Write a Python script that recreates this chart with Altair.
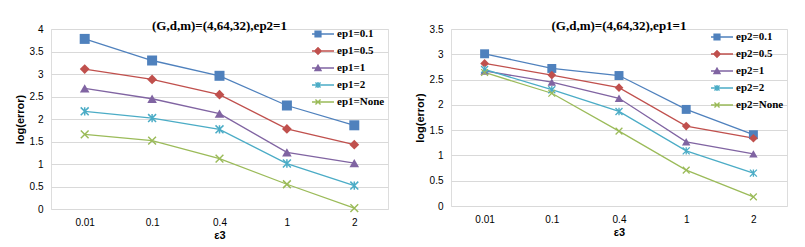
import math
import altair as alt
import pandas as pd

# ---------------- data ----------------
eps3 = ["0.01", "0.1", "0.4", "1", "2"]

left_series = ["ep1=0.1", "ep1=0.5", "ep1=1", "ep1=2", "ep1=None"]
left_ep1_01 = [3.78, 3.30, 2.96, 2.30, 1.86]
left_ep1_05 = [3.11, 2.88, 2.54, 1.78, 1.43]
left_ep1_1 = [2.68, 2.45, 2.12, 1.26, 1.02]
left_ep1_2 = [2.17, 2.02, 1.77, 1.01, 0.52]
left_ep1_none = [1.66, 1.52, 1.12, 0.55, 0.02]

right_series = ["ep2=0.1", "ep2=0.5", "ep2=1", "ep2=2", "ep2=None"]
right_ep2_01 = [3.01, 2.72, 2.58, 1.91, 1.41]
right_ep2_05 = [2.82, 2.59, 2.34, 1.58, 1.34]
right_ep2_1 = [2.67, 2.45, 2.13, 1.27, 1.03]
right_ep2_2 = [2.70, 2.30, 1.87, 1.09, 0.65]
right_ep2_none = [2.64, 2.23, 1.48, 0.71, 0.18]

left_title = "(G,d,m)=(4,64,32),ep2=1"
right_title = "(G,d,m)=(4,64,32),ep1=1"

# ---------------- styling ----------------
colors = ["#4F81BD", "#C0504D", "#8064A2", "#4BACC6", "#9BBB59"]
FONT = "'Times New Roman', 'Liberation Serif', 'DejaVu Serif', serif"


def bar(angle_deg, half_len, half_w):
    a = math.radians(angle_deg)
    d = (math.cos(a), math.sin(a))
    n = (-d[1], d[0])
    pts = [
        (d[0] * half_len - n[0] * half_w, d[1] * half_len - n[1] * half_w),
        (d[0] * half_len + n[0] * half_w, d[1] * half_len + n[1] * half_w),
        (-d[0] * half_len + n[0] * half_w, -d[1] * half_len + n[1] * half_w),
        (-d[0] * half_len - n[0] * half_w, -d[1] * half_len - n[1] * half_w),
    ]
    return "M" + "L".join(f"{x:.3f},{y:.3f}" for x, y in pts) + "Z"


def rect(x0, y0, x1, y1):
    return f"M{x0:.3f},{y0:.3f}L{x1:.3f},{y0:.3f}L{x1:.3f},{y1:.3f}L{x0:.3f},{y1:.3f}Z"


# data-point marker shapes (filled polygons)
x_shape = bar(45, 1.2, 0.16) + bar(135, 1.2, 0.16)
star_shape = bar(45, 1.2, 0.16) + bar(135, 1.2, 0.16) + bar(90, 0.9, 0.16)
point_shapes = ["square", "diamond", "triangle-up", star_shape, x_shape]
point_sizes = [100, 64, 85, 100, 100]

# legend symbols: line + small marker; symbol size 144 -> 1 unit = 6px
LEG_SIZE = 144
u = math.sqrt(LEG_SIZE) / 2.0
lw = 0.7 / u
line_p = rect(-16 / u, -lw, 16 / u, lw)
sq = 3.6 / u
dm = 4.2 / u
tr = 4.2 / u
bx = 3.6 / u
bw = 0.7 / u
leg_shapes = [
    line_p + rect(-sq, -sq, sq, sq),
    line_p + f"M0,{-dm:.3f}L{dm:.3f},0L0,{dm:.3f}L{-dm:.3f},0Z",
    line_p + f"M0,{-tr:.3f}L{tr:.3f},{tr * 0.8:.3f}L{-tr:.3f},{tr * 0.8:.3f}Z",
    line_p + bar(45, bx, bw) + bar(135, bx, bw) + bar(90, bx * 0.8, bw),
    line_p + bar(45, bx, bw) + bar(135, bx, bw),
]


def make_df(series, values):
    rows = []
    for s, vals in zip(series, values):
        for e, v in zip(eps3, vals):
            rows.append({"eps": e, "series": s, "value": v})
    return pd.DataFrame(rows)


def panel(title, series, values, ymax, width, height, lx, ly):
    df = make_df(series, values)
    base = alt.Chart(df)
    x = alt.X(
        "eps:N",
        sort=eps3,
        scale=alt.Scale(type="point", padding=0.5),
        axis=alt.Axis(title="ε3", labelAngle=0, domain=False, ticks=False,
                      labelPadding=8, titlePadding=2, grid=False),
    )
    y = alt.Y(
        "value:Q",
        scale=alt.Scale(domain=[0, ymax], nice=False, zero=True),
        axis=alt.Axis(title="log(error)", values=[i * 0.5 for i in range(int(ymax * 2) + 1)],
                      format="~g", domain=False, ticks=False, labelPadding=8,
                      titlePadding=4, gridColor="#d9d9d9", gridWidth=1),
    )
    lines = base.mark_line(strokeWidth=1.3).encode(
        x=x, y=y,
        stroke=alt.Stroke("series:N", scale=alt.Scale(domain=series, range=colors), legend=None),
    )
    pts = base.mark_point(filled=True, opacity=1).encode(
        x=x, y=y,
        fill=alt.Fill("series:N", scale=alt.Scale(domain=series, range=colors), legend=None),
        shape=alt.Shape("series:N", scale=alt.Scale(domain=series, range=point_shapes), legend=None),
        size=alt.Size("series:N", scale=alt.Scale(domain=series, range=point_sizes), legend=None),
    )
    legend = alt.Legend(
        title=None, orient="none", legendX=lx, legendY=ly, symbolSize=LEG_SIZE,
        labelFont=FONT, labelFontWeight="bold", labelFontSize=11, labelColor="#000000",
        rowPadding=5, labelOffset=13, padding=0, symbolStrokeWidth=0, clipHeight=12,
    )
    leg = base.mark_point(filled=True, opacity=1, size=LEG_SIZE).encode(
        fill=alt.Fill("series:N", scale=alt.Scale(domain=series, range=colors), legend=legend),
        shape=alt.Shape("series:N", scale=alt.Scale(domain=series, range=leg_shapes), legend=legend),
    ).transform_filter("false")
    return (
        alt.layer(lines, pts, leg)
        .resolve_scale(fill="independent", shape="independent")
        .properties(
            width=width, height=height,
            title=alt.TitleParams(title, font=FONT, fontSize=13, fontWeight="bold",
                                  color="#000000", offset=-3, dy=6, anchor="middle"),
        )
    )


left = panel(left_title, left_series,
             [left_ep1_01, left_ep1_05, left_ep1_1, left_ep1_2, left_ep1_none],
             4, 337, 180, 261, -1)
right = panel(right_title, right_series,
              [right_ep2_01, right_ep2_05, right_ep2_1, right_ep2_2, right_ep2_none],
              3.5, 336, 177, 260, 2)

chart = (
    alt.hconcat(left, right, spacing=24)
    .properties(padding={"left": 5, "top": 11, "right": 5, "bottom": 0})
    .configure_view(stroke=None)
    .configure_axis(labelFont=FONT, labelFontWeight="bold", labelFontSize=11,
                    labelColor="#000000", titleFont=FONT, titleFontWeight="bold",
                    titleFontSize=11, titleColor="#000000")
    .configure(background="white")
)

chart.save("out.html", embed_options={"renderer": "svg", "actions": False})
